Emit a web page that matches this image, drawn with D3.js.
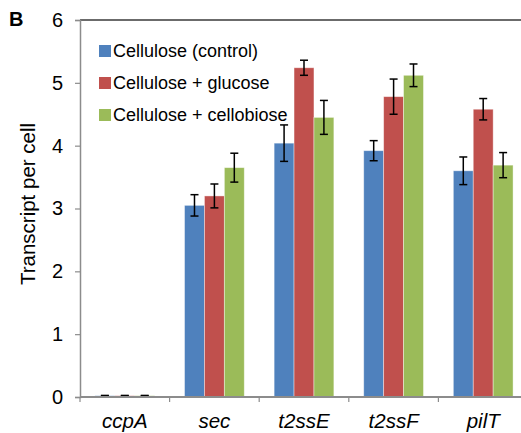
<!DOCTYPE html>
<html>
<head>
<meta charset="utf-8">
<script src="https://cdn.jsdelivr.net/npm/d3@7"></script>
<style>
  body { margin: 0; background: #fff; }
  text { font-family: "Liberation Sans", Arial, sans-serif; }
</style>
</head>
<body>
<div id="chart"></div>
<script>
// data
const genes = ["ccpA", "sec", "t2ssE", "t2ssF", "pilT"];
const seriesNames = ["Cellulose (control)", "Cellulose + glucose", "Cellulose + cellobiose"];
const control = [0.02, 3.05, 4.04, 3.92, 3.60];
const glucose = [0.02, 3.20, 5.24, 4.78, 4.58];
const cellobiose = [0.02, 3.65, 4.45, 5.12, 3.69];
const controlErr = [0.005, 0.17, 0.29, 0.16, 0.22];
const glucoseErr = [0.005, 0.19, 0.12, 0.28, 0.17];
const cellobioseErr = [0.005, 0.23, 0.27, 0.18, 0.20];
const yTicks = [0, 1, 2, 3, 4, 5, 6];
const colors = ["#4F81BD", "#C0504D", "#9BBB59"];

const values = [control, glucose, cellobiose];
const errors = [controlErr, glucoseErr, cellobioseErr];

const svg = d3.select("#chart").append("svg")
  .attr("width", 521)
  .attr("height", 433);

const margin = {top: 20, right: -7, bottom: 36, left: 80},
  width = 521 - margin.left - margin.right,
  height = 433 - margin.top - margin.bottom;

const g = svg.append("g").attr("transform", "translate(" + margin.left + "," + margin.top + ")");

const x = d3.scaleBand()
  .domain(genes)
  .range([0, width])
  .paddingInner(0)
  .paddingOuter(0);

const x1 = d3.scaleBand()
  .domain(seriesNames)
  .range([0, x.bandwidth()])
  .paddingOuter(0.75)
  .paddingInner(0);

const y = d3.scaleLinear()
  .domain([0, 6])
  .range([height, 0]);

// top border of plot
g.append("line")
  .attr("x1", 0).attr("x2", width)
  .attr("y1", y(6)).attr("y2", y(6))
  .attr("stroke", "#3a3a3a")
  .attr("stroke-width", 1.5);

// bars
const rows = [];
genes.forEach((gene, i) => {
  seriesNames.forEach((s, j) => {
    rows.push({gene: gene, series: s, j: j, v: values[j][i], e: errors[j][i]});
  });
});

g.selectAll(".bar")
  .data(rows)
  .enter().append("rect")
  .attr("class", "bar")
  .attr("x", d => x(d.gene) + x1(d.series))
  .attr("y", d => y(d.v))
  .attr("width", x1.bandwidth())
  .attr("height", d => y(0) - y(d.v))
  .attr("fill", d => colors[d.j])
  .attr("stroke", "rgba(255,255,255,0.5)")
  .attr("stroke-width", 0.8);

// error bars
const eb = g.selectAll(".err")
  .data(rows)
  .enter().append("g")
  .attr("class", "err")
  .attr("stroke", "#000")
  .attr("stroke-width", 1.5);

const cx = d => x(d.gene) + x1(d.series) + x1.bandwidth() / 2;
eb.append("line")
  .attr("x1", cx).attr("x2", cx)
  .attr("y1", d => y(d.v + d.e)).attr("y2", d => y(d.v - d.e));
eb.append("line")
  .attr("x1", d => cx(d) - 4).attr("x2", d => cx(d) + 4)
  .attr("y1", d => y(d.v + d.e)).attr("y2", d => y(d.v + d.e));
eb.append("line")
  .attr("x1", d => cx(d) - 4).attr("x2", d => cx(d) + 4)
  .attr("y1", d => y(d.v - d.e)).attr("y2", d => y(d.v - d.e));

// y axis
const yAxis = g.append("g")
  .call(d3.axisLeft(y).tickValues(yTicks).tickSize(5).tickPadding(12).tickFormat(d3.format("d")));
yAxis.select(".domain").attr("stroke", "#8c8c8c").attr("stroke-width", 1.5);
yAxis.selectAll(".tick line").attr("stroke", "#8c8c8c").attr("stroke-width", 1.2);
yAxis.selectAll(".tick text")
  .attr("font-size", "20px")
  .attr("fill", "#000")
  .style("font-family", "Liberation Sans, Arial, sans-serif");

// x axis (ticks between categories)
const xAxisG = g.append("g").attr("transform", "translate(0," + height + ")");
xAxisG.append("line")
  .attr("x1", 0).attr("x2", width)
  .attr("stroke", "#8c8c8c")
  .attr("stroke-width", 2);
xAxisG.selectAll(".xt")
  .data(genes)
  .enter().append("line")
  .attr("x1", d => x(d)).attr("x2", d => x(d))
  .attr("y1", 0).attr("y2", 5)
  .attr("stroke", "#8c8c8c")
  .attr("stroke-width", 1.2);
xAxisG.selectAll(".xl")
  .data(genes)
  .enter().append("text")
  .attr("x", d => x(d) + x.bandwidth() / 2)
  .attr("y", 31)
  .attr("text-anchor", "middle")
  .attr("font-size", "20.5px")
  .attr("font-style", "italic")
  .text(d => d);

// y label
svg.append("text")
  .attr("transform", "translate(35,204) rotate(-90)")
  .attr("text-anchor", "middle")
  .attr("font-size", "20.5px")
  .text("Transcript per cell");

// panel letter
svg.append("text")
  .attr("x", 9)
  .attr("y", 26)
  .attr("font-size", "20px")
  .attr("font-weight", "bold")
  .text("B");

// legend
const legend = svg.selectAll(".legend")
  .data(seriesNames)
  .enter().append("g")
  .attr("class", "legend")
  .attr("transform", (d, i) => "translate(99," + (51 + i * 32) + ")");

legend.append("rect")
  .attr("x", 0)
  .attr("y", -6)
  .attr("width", 12)
  .attr("height", 12)
  .attr("fill", (d, i) => colors[i]);

legend.append("text")
  .attr("x", 14)
  .attr("y", 0)
  .attr("dy", "0.36em")
  .attr("font-size", "18px")
  .text(d => d);
</script>
</body>
</html>
